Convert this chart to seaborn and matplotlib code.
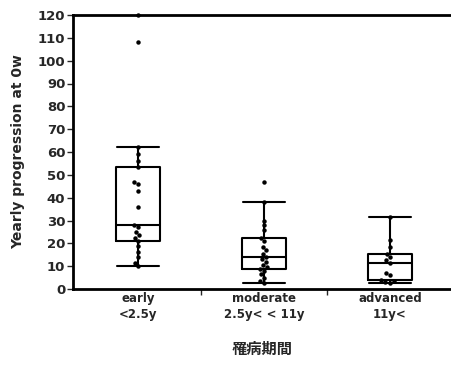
import matplotlib
matplotlib.use("Agg")
import matplotlib.pyplot as plt
import seaborn as sns
import pandas as pd

# ---- data ----
categories = ["early", "moderate", "advanced"]
sub_labels = ["<2.5y", "2.5y< < 11y", "11y<"]
early = [10, 11.5, 14, 16, 19, 21, 22.5, 23.5, 25, 27, 28,
         36, 43, 46, 47, 53.5, 56, 59, 62, 108, 120]
moderate = [2.6, 3.5, 5, 6.5, 8, 8.8, 9.5, 10.5, 12, 13, 14,
            15.5, 17, 18.5, 21, 22.3, 26, 28, 30, 38, 47]
advanced = [2.6, 3, 3.5, 4, 6, 7, 11.4, 12.5, 14, 15.3, 18.4, 21.5, 31.6]
y_ticks = list(range(0, 121, 10))
y_label = "Yearly progression at 0w"
x_label = "罹病期間"

groups = [early, moderate, advanced]
df = pd.DataFrame({
    "group": sum([[c] * len(g) for c, g in zip(categories, groups)], []),
    "value": sum(groups, []),
})

sns.set_style("white")
plt.rcParams["font.family"] = ["DejaVu Sans"]

fig = plt.figure(figsize=(4.51, 3.81), dpi=100)
ax = fig.add_axes([73 / 451, 1 - 289 / 381, 378 / 451, (289 - 15) / 381])

sns.boxplot(data=df, x="group", y="value", order=categories, ax=ax,
            width=0.35, fill=False, color="black", linewidth=1.5,
            showfliers=False, whis=1.5, capwidths=0.33)
sns.swarmplot(data=df, x="group", y="value", order=categories, ax=ax,
              color="black", size=3.2, clip_on=False)

ax.set_ylim(0, 120)
ax.set_xlim(-0.516, 2.484)
ax.set_yticks(y_ticks)
ax.set_yticklabels([str(t) for t in y_ticks], fontsize=9.5, fontweight="bold")
ax.tick_params(axis="y", length=4, width=1, pad=1.5, left=True, direction="out")

ax.set_xticks(range(len(categories)))
ax.set_xticklabels([f"{c}\n{s}" for c, s in zip(categories, sub_labels)],
                   fontsize=8.5, fontweight="bold", linespacing=1.3)
ax.tick_params(axis="x", length=0, pad=2.5)
ax.set_xticks([0.5, 1.5], minor=True)
ax.tick_params(axis="x", which="minor", length=4, width=1, bottom=True, direction="out")

ax.set_xlabel(x_label, fontsize=11, fontweight="bold",
              family=["Noto Sans CJK JP", "DejaVu Sans"], labelpad=14)
ax.set_ylabel(y_label, fontsize=10, fontweight="bold", labelpad=9)

for side in ["left", "bottom", "top"]:
    ax.spines[side].set_visible(True)
    ax.spines[side].set_linewidth(2)
    ax.spines[side].set_color("black")
ax.spines["right"].set_visible(False)

fig.savefig("out.png", dpi=100)
